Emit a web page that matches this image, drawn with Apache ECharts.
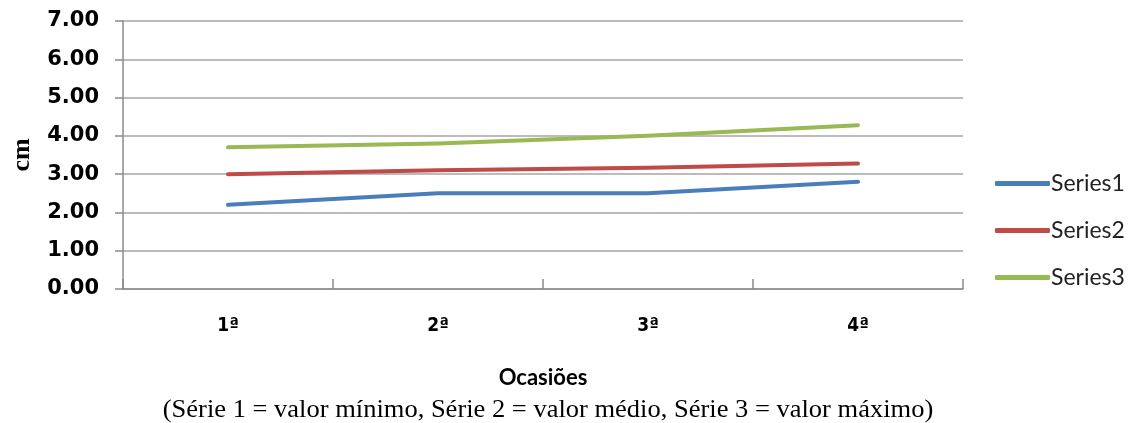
<!DOCTYPE html>
<html>
<head>
<meta charset="utf-8">
<script src="https://cdn.jsdelivr.net/npm/echarts@6/dist/echarts.min.js"></script>
<style>
html,body{margin:0;padding:0;background:#fff;}
#chart{width:1133px;height:423px;}
</style>
</head>
<body>
<div id="chart"></div>
<script>
const categories = ['1ª', '2ª', '3ª', '4ª'];
const series1 = [2.2, 2.5, 2.5, 2.8];
const series2 = [3.0, 3.1, 3.17, 3.28];
const series3 = [3.7, 3.8, 4.0, 4.28];
const seriesNames = ['Series1', 'Series2', 'Series3'];
const yAxisTitle = 'cm';
const xAxisTitle = 'Ocasiões';
const noteText = '(Série 1 = valor mínimo, Série 2 = valor médio, Série 3 = valor máximo)';

const colors = ['#4A7EBB', '#BE4B48', '#98B954'];
const chart = echarts.init(document.getElementById('chart'), null, {renderer: 'canvas'});
const mkSeries = (name, data, i) => ({
  name: name, type: 'line', data: data, symbol: 'none', smooth: false,
  lineStyle: {width: 4, color: colors[i], cap: 'round', join: 'round'},
  itemStyle: {color: colors[i]}
});
chart.setOption({
  animation: false,
  color: colors,
  grid: {left: 123, right: 170, top: 21, bottom: 134},
  legend: {
    orient: 'vertical', left: 990, top: 167,
    icon: 'roundRect', itemWidth: 55, itemHeight: 5, itemGap: 24,
    textStyle: {fontFamily: 'Liberation Sans Narrow, Lato', fontSize: 23, color: '#222', padding: [0,0,0,-4]},
    data: seriesNames
  },
  xAxis: {
    type: 'category', data: categories, boundaryGap: true,
    name: xAxisTitle, nameLocation: 'middle', nameGap: 78,
    nameTextStyle: {fontFamily: 'Liberation Sans Narrow, Lato', fontWeight: 'bold', fontSize: 22, color: '#000'},
    axisLine: {lineStyle: {color: '#8C8C8C', width: 1.5}},
    axisTick: {show: true, inside: true, length: 10, alignWithLabel: false, lineStyle: {color: '#8C8C8C', width: 1.5}},
    axisLabel: {margin: 28, fontFamily: 'DejaVu Sans Condensed, DejaVu Sans', fontWeight: 'bold', fontSize: 19, color: '#000'},
    splitLine: {show: false}
  },
  yAxis: {
    type: 'value', min: 0, max: 7, interval: 1,
    name: yAxisTitle, nameLocation: 'middle', nameGap: 88, nameRotate: 90,
    nameTextStyle: {fontFamily: 'Liberation Serif', fontWeight: 'bold', fontSize: 26, color: '#000'},
    axisLine: {show: true, lineStyle: {color: '#8C8C8C', width: 1.5}},
    axisTick: {show: true, length: 8, lineStyle: {color: '#8C8C8C', width: 1.5}},
    axisLabel: {margin: 24, fontFamily: 'DejaVu Sans', fontWeight: 'bold', fontSize: 21, color: '#000',
      formatter: v => v.toFixed(2)},
    splitLine: {show: true, lineStyle: {color: '#A6A6A6', width: 1.5}}
  },
  graphic: [{
    type: 'text', x: 548, y: 410, scaleX: 1.06, z: 10,
    style: {text: noteText, fontFamily: 'Liberation Serif', fontSize: 25, fill: '#000',
      align: 'center', verticalAlign: 'middle'}
  }],
  series: [
    mkSeries(seriesNames[0], series1, 0),
    mkSeries(seriesNames[1], series2, 1),
    mkSeries(seriesNames[2], series3, 2)
  ]
});
</script>
</body>
</html>
